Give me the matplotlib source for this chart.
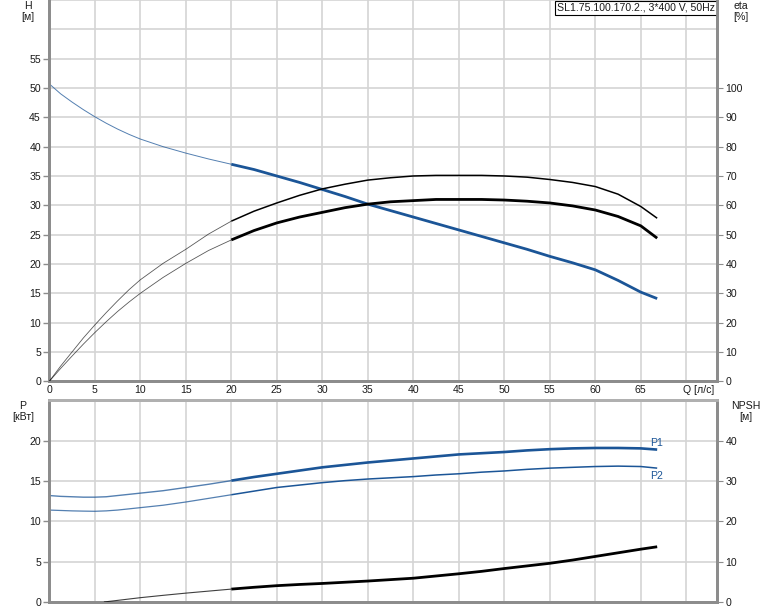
import numpy as np
import matplotlib
matplotlib.use("Agg")
import matplotlib.pyplot as plt

plt.rcParams['font.family'] = ['Liberation Sans', 'DejaVu Sans']

# ---------------- data ----------------
q = [0, 1.25, 2.5, 3.75, 5, 6.25, 7.5, 8.75, 10, 12.5, 15, 17.5, 20, 22.5, 25, 27.5,
     30, 32.5, 35, 37.5, 40, 42.5, 45, 47.5, 50, 52.5, 55, 57.5, 60, 62.5, 65, 66.8]
head = [50.7, 49.0, 47.6, 46.3, 45.1, 44.0, 43.0, 42.1, 41.3, 40.0, 38.9, 37.9, 37.0,
        36.1, 35.0, 33.9, 32.7, 31.5, 30.2, 29.1, 28.0, 26.9, 25.8, 24.7, 23.6, 22.5,
        21.3, 20.2, 19.0, 17.2, 15.2, 14.1]
eta_hyd = [0, 5.2, 10, 14.8, 19.2, 23.4, 27.4, 31.2, 34.6, 40.2, 45, 50.2, 54.6, 58,
           60.8, 63.4, 65.6, 67.2, 68.6, 69.4, 70, 70.2, 70.2, 70.2, 70, 69.6, 68.8,
           67.8, 66.4, 63.8, 59.6, 55.6]
eta_tot = [0, 4.4, 8.6, 12.7, 16.6, 20.3, 23.8, 27.0, 30, 35.4, 40.2, 44.6, 48.2, 51.4,
           54, 56, 57.6, 59.2, 60.4, 61.2, 61.6, 62, 62, 62, 61.8, 61.4, 60.8, 59.8,
           58.4, 56.2, 53, 48.8]
p1 = [13.2, 13.1, 13.05, 13.0, 13.0, 13.05, 13.2, 13.35, 13.5, 13.8, 14.2, 14.6, 15.05,
      15.5, 15.9, 16.3, 16.7, 17.0, 17.3, 17.55, 17.8, 18.05, 18.3, 18.45, 18.6, 18.8,
      18.95, 19.05, 19.1, 19.1, 19.05, 18.9]
p2 = [11.4, 11.35, 11.3, 11.27, 11.25, 11.3, 11.4, 11.55, 11.7, 12.0, 12.4, 12.85, 13.3,
      13.75, 14.2, 14.5, 14.8, 15.05, 15.25, 15.4, 15.55, 15.75, 15.9, 16.1, 16.25,
      16.45, 16.6, 16.7, 16.8, 16.85, 16.8, 16.6]
q_npsh = [6, 7.5, 10, 12.5, 15, 17.5, 20, 22.5, 25, 27.5, 30, 32.5, 35, 37.5, 40, 42.5,
          45, 47.5, 50, 52.5, 55, 57.5, 60, 62.5, 65, 66.8]
npsh = [0, 0.4, 1.07, 1.65, 2.2, 2.7, 3.2, 3.65, 4.05, 4.35, 4.6, 4.9, 5.2, 5.55, 5.9,
        6.45, 7.0, 7.6, 8.3, 8.95, 9.6, 10.4, 11.3, 12.2, 13.1, 13.7]

q_ticks = [0, 5, 10, 15, 20, 25, 30, 35, 40, 45, 50, 55, 60, 65, 70]
q_ticklabels = ['0', '5', '10', '15', '20', '25', '30', '35', '40', '45', '50', '55',
                '60', '65', 'Q [л/с]']
h_ticks = [0, 5, 10, 15, 20, 25, 30, 35, 40, 45, 50, 55]
eta_ticks = [0, 10, 20, 30, 40, 50, 60, 70, 80, 90, 100]
p_ticks = [0, 5, 10, 15, 20]
npsh_ticks = [0, 10, 20, 30, 40]
title_text = 'SL1.75.100.170.2., 3*400 V, 50Hz'
q_split = 20

# ---------------- style ----------------
BLUE = '#1b5597'
BLACK = '#000000'
GRID = '#d4d4d4'
SPINE = '#8c8c8c'
TXT = '#1a1a1a'
FS = 7.6

fig = plt.figure(figsize=(7.74, 6.11), dpi=100)
W, H = 774, 611
x0, x1 = 49.3, 717.3


def ax_rect(top, bottom):
    return [x0 / W, 1 - bottom / H, (x1 - x0) / W, (bottom - top) / H]


ax = fig.add_axes(ax_rect(0, 381.3))
axr = ax.twinx()
bx = fig.add_axes(ax_rect(400.4, 602))
bxr = bx.twinx()

XMAX = (x1 - x0) / 9.1

for a in (ax, bx):
    a.set_xlim(0, XMAX)
    a.set_xticks(q_ticks)
    a.grid(True, which='both', color=GRID, linewidth=1.2)
    a.set_axisbelow(True)
    a.tick_params(axis='both', colors=SPINE, labelcolor=TXT, labelsize=FS,
                  length=4, width=1, direction='out', pad=2)
    a.tick_params(axis='y', which='minor', length=0)

ax.set_ylim(0, 65)
ax.set_yticks(h_ticks)
ax.set_yticks([60, 65], minor=True)
ax.set_xticklabels(q_ticklabels)
ax.tick_params(axis='x', length=0, pad=3)
lbl = ax.get_xticklabels()[-1]
lbl.set_horizontalalignment('left')
lbl.set_x(70)
import matplotlib.transforms as mtrans
lbl.set_transform(lbl.get_transform() + mtrans.ScaledTranslation(-3 / 100, 0, fig.dpi_scale_trans))

axr.set_ylim(0, 130)
axr.set_yticks(eta_ticks)
axr.tick_params(axis='y', colors=SPINE, labelcolor=TXT, labelsize=FS, length=4,
                direction='out', pad=2)

bx.set_ylim(0, 25)
bx.set_yticks(p_ticks)
bx.set_yticks([25], minor=True)
bx.tick_params(axis='x', labelbottom=False, length=0)
bxr.set_ylim(0, 50)
bxr.set_yticks(npsh_ticks)
bxr.tick_params(axis='y', colors=SPINE, labelcolor=TXT, labelsize=FS, length=4,
                direction='out', pad=2)

for a in (ax, axr):
    a.spines['top'].set_visible(False)
for a in (ax, axr, bx, bxr):
    for s in a.spines.values():
        s.set_color(SPINE)
        s.set_linewidth(2)
for a in (bx, bxr):
    a.spines['top'].set_color('#b0b0b0')
    a.spines['top'].set_linewidth(2)


def draw_split(a, xs, ys, color, lw_thin, lw_thick, zorder=3, alpha_thin=0.75):
    xs = np.asarray(xs, float)
    ys = np.asarray(ys, float)
    m1 = xs <= q_split
    m2 = xs >= q_split
    a.plot(xs[m1], ys[m1], color=color, lw=lw_thin, alpha=alpha_thin, zorder=zorder,
           solid_capstyle='butt', solid_joinstyle='round')
    a.plot(xs[m2], ys[m2], color=color, lw=lw_thick, zorder=zorder,
           solid_capstyle='butt', solid_joinstyle='round')


draw_split(ax, q, head, BLUE, 0.7, 2.0)
draw_split(axr, q, eta_hyd, BLACK, 0.6, 1.1, alpha_thin=0.65)
draw_split(axr, q, eta_tot, BLACK, 0.6, 2.0, alpha_thin=0.65)

draw_split(bx, q, p1, BLUE, 1.0, 1.9)
draw_split(bx, q, p2, BLUE, 0.9, 1.1)
draw_split(bxr, q_npsh, npsh, BLACK, 0.8, 2.0)

bx.text(q[-1] - 0.8, p1[-1] + 0.25, 'P1', color=BLUE, fontsize=FS, ha='left',
        va='bottom')
bx.text(q[-1] - 0.8, p2[-1] - 0.3, 'P2', color=BLUE, fontsize=FS, ha='left',
        va='top')

# title box
ax.text(0.997, 0.993, title_text, transform=ax.transAxes, ha='right', va='top',
        fontsize=FS, color=TXT,
        bbox=dict(boxstyle='square,pad=0.2', facecolor='white', edgecolor='black',
                  linewidth=0.8), zorder=10)

# axis captions
fig.text(28 / W, 1 - 6 / H, 'H', fontsize=FS, color=TXT, ha='center', va='center')
fig.text(28 / W, 1 - 17 / H, '[м]', fontsize=FS, color=TXT, ha='center', va='center')
fig.text(741 / W, 1 - 6 / H, 'eta', fontsize=FS, color=TXT, ha='center', va='center')
fig.text(741 / W, 1 - 17 / H, '[%]', fontsize=FS, color=TXT, ha='center', va='center')
fig.text(23 / W, 1 - 406 / H, 'P', fontsize=FS, color=TXT, ha='center', va='center')
fig.text(23 / W, 1 - 417 / H, '[кВт]', fontsize=FS, color=TXT, ha='center', va='center')
fig.text(746 / W, 1 - 406 / H, 'NPSH', fontsize=FS, color=TXT, ha='center', va='center')
fig.text(746 / W, 1 - 417 / H, '[м]', fontsize=FS, color=TXT, ha='center', va='center')

fig.savefig('out.png', dpi=100, facecolor='white')
